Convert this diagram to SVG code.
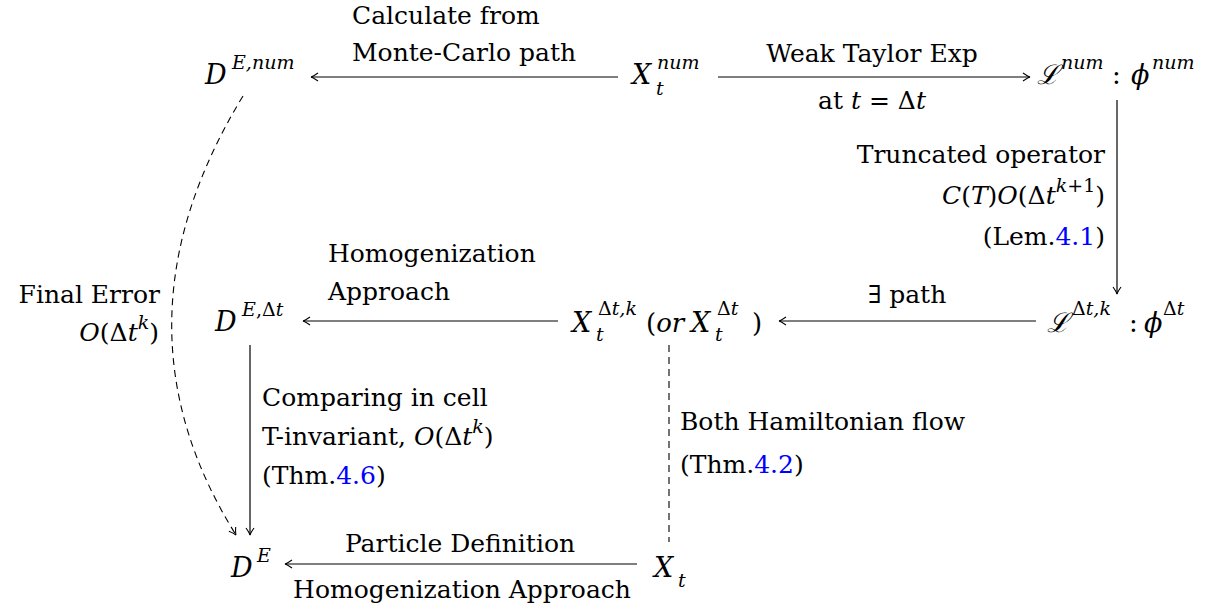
<svg xmlns="http://www.w3.org/2000/svg" width="1211" height="609" viewBox="0 0 1211 609">
<defs>
<marker id="ah" viewBox="-10 -6 12 12" refX="0" refY="0" markerWidth="12" markerHeight="12" markerUnits="userSpaceOnUse" orient="auto">
<path d="M-7,-4 Q-2,-0.5 0,0 Q-2,0.5 -7,4" fill="none" stroke="#000" stroke-width="1.1"/>
</marker>
</defs>
<rect width="1211" height="609" fill="#fff"/>
<g id="connectors" fill="none" stroke="#000" stroke-width="1.2">
<path d="M618,77 L311,77" marker-end="url(#ah)"/>
<path d="M718,77 L1030,77" marker-end="url(#ah)"/>
<path d="M1117,100 L1117,294" marker-end="url(#ah)"/>
<path d="M1036,321 L779,321" marker-end="url(#ah)"/>
<path d="M558,321 L303,321" marker-end="url(#ah)"/>
<path d="M250,345 L250,535" marker-end="url(#ah)"/>
<path d="M637,564 L285,564" marker-end="url(#ah)"/>
<path d="M669,345 L669,542" stroke-dasharray="7,5" stroke-width="1.1"/>
<path d="M243,96 Q104,324 236,535" stroke-dasharray="7,5" stroke-width="1.1" marker-end="url(#ah)"/>
</g>
<g id="n-denum"><text font-family="DejaVu Serif" font-size="27" font-style="italic" x="205" y="84">D</text><text font-family="DejaVu Serif" font-size="19" font-style="italic" x="232" y="69">E,num</text></g>
<g id="n-xnum"><text font-family="DejaVu Serif" font-size="27" font-style="italic" x="632" y="84">X</text><text font-family="DejaVu Serif" font-size="19" font-style="italic" x="657" y="69">num</text><text font-family="DejaVu Serif" font-size="19" font-style="italic" x="656" y="95">t</text></g>
<g id="n-lnum"><text font-family="DejaVu Serif" font-size="27" font-style="italic" x="1037" y="84">ℒ</text><text font-family="DejaVu Serif" font-size="19" font-style="italic" x="1061" y="69">num</text><text font-family="DejaVu Serif" font-size="26" x="1112" y="84">:</text><text font-family="DejaVu Serif" font-size="27" font-style="italic" x="1131" y="84">ϕ</text><text font-family="DejaVu Serif" font-size="19" font-style="italic" x="1152" y="69">num</text></g>
<g id="n-ldt"><text font-family="DejaVu Serif" font-size="27" font-style="italic" x="1047" y="332">ℒ</text><text font-family="DejaVu Serif" font-size="19" x="1072" y="315">Δ<tspan font-style="italic">t,k</tspan></text><text font-family="DejaVu Serif" font-size="26" x="1129" y="332">:</text><text font-family="DejaVu Serif" font-size="27" font-style="italic" x="1144" y="332">ϕ</text><text font-family="DejaVu Serif" font-size="19" x="1163" y="315">Δ<tspan font-style="italic">t</tspan></text></g>
<g id="n-xdt"><text font-family="DejaVu Serif" font-size="27" font-style="italic" x="572" y="332">X</text><text font-family="DejaVu Serif" font-size="19" x="598" y="315">Δ<tspan font-style="italic">t,k</tspan></text><text font-family="DejaVu Serif" font-size="19" font-style="italic" x="596" y="341">t</text><text font-family="DejaVu Serif" font-size="26" x="646" y="332">(<tspan font-style="italic">or</tspan></text><text font-family="DejaVu Serif" font-size="27" font-style="italic" x="691" y="332">X</text><text font-family="DejaVu Serif" font-size="19" x="717" y="315">Δ<tspan font-style="italic">t</tspan></text><text font-family="DejaVu Serif" font-size="19" font-style="italic" x="715" y="341">t</text><text font-family="DejaVu Serif" font-size="26" x="752" y="332">)</text></g>
<g id="n-dedt"><text font-family="DejaVu Serif" font-size="27" font-style="italic" x="215" y="331">D</text><text font-family="DejaVu Serif" font-size="19" x="242" y="316"><tspan font-style="italic">E</tspan>,Δ<tspan font-style="italic">t</tspan></text></g>
<g id="n-de"><text font-family="DejaVu Serif" font-size="27" font-style="italic" x="231" y="577">D</text><text font-family="DejaVu Serif" font-size="19" font-style="italic" x="257" y="562">E</text></g>
<g id="n-xt"><text font-family="DejaVu Serif" font-size="27" font-style="italic" x="654" y="577">X</text><text font-family="DejaVu Serif" font-size="19" font-style="italic" x="678" y="587">t</text></g>
<g id="labels">
<text font-family="DejaVu Serif" font-size="25" x="352" y="24">Calculate from</text>
<text font-family="DejaVu Serif" font-size="25" x="352" y="61">Monte-Carlo path</text>
<text font-family="DejaVu Serif" font-size="25" x="872" y="62" text-anchor="middle">Weak Taylor Exp</text>
<text font-family="DejaVu Serif" font-size="25" x="872" y="109" text-anchor="middle">at <tspan font-style="italic">t</tspan> = Δ<tspan font-style="italic">t</tspan></text>
<text font-family="DejaVu Serif" font-size="25" x="1105" y="163" text-anchor="end">Truncated operator</text>
<text font-family="DejaVu Serif" font-size="25" x="1105" y="204" text-anchor="end"><tspan font-style="italic">C</tspan>(<tspan font-style="italic">T</tspan>)<tspan font-style="italic">O</tspan>(Δ<tspan font-style="italic">t</tspan><tspan font-size="19" font-style="italic" dy="-12">k</tspan><tspan font-size="19">+1</tspan><tspan dy="12">)</tspan></text>
<text font-family="DejaVu Serif" font-size="25" x="1105" y="245" text-anchor="end">(Lem.<tspan fill="#0000ff">4.1</tspan>)</text>
<text font-family="DejaVu Serif" font-size="25" x="907" y="303" text-anchor="middle">∃ path</text>
<text font-family="DejaVu Serif" font-size="25" x="328" y="262">Homogenization</text>
<text font-family="DejaVu Serif" font-size="25" x="328" y="300">Approach</text>
<text font-family="DejaVu Serif" font-size="25" x="160" y="303" text-anchor="end">Final Error</text>
<text font-family="DejaVu Serif" font-size="25" x="159" y="341" text-anchor="end"><tspan font-style="italic">O</tspan>(Δ<tspan font-style="italic">t</tspan><tspan font-size="19" font-style="italic" dy="-12">k</tspan><tspan dy="12">)</tspan></text>
<text font-family="DejaVu Serif" font-size="25" x="262" y="406">Comparing in cell</text>
<text font-family="DejaVu Serif" font-size="25" x="262" y="445">T-invariant, <tspan font-style="italic">O</tspan>(Δ<tspan font-style="italic">t</tspan><tspan font-size="19" font-style="italic" dy="-12">k</tspan><tspan dy="12">)</tspan></text>
<text font-family="DejaVu Serif" font-size="25" x="262" y="484">(Thm.<tspan fill="#0000ff">4.6</tspan>)</text>
<text font-family="DejaVu Serif" font-size="25" x="680" y="430">Both Hamiltonian flow</text>
<text font-family="DejaVu Serif" font-size="25" x="680" y="473">(Thm.<tspan fill="#0000ff">4.2</tspan>)</text>
<text font-family="DejaVu Serif" font-size="25" x="460" y="552" text-anchor="middle">Particle Definition</text>
<text font-family="DejaVu Serif" font-size="25" x="462" y="598" text-anchor="middle">Homogenization Approach</text>
</g>
</svg>
